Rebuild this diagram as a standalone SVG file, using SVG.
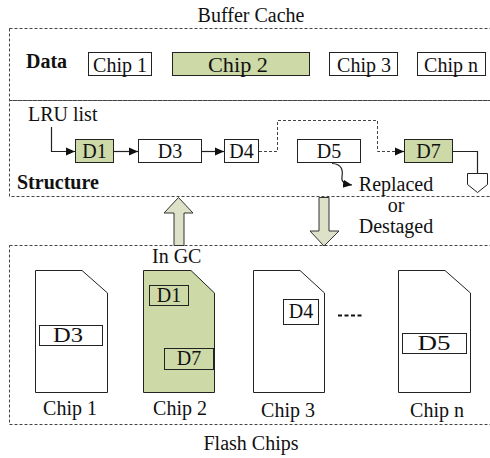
<svg xmlns="http://www.w3.org/2000/svg" width="490" height="458" viewBox="0 0 490 458">
<defs>
<style>
text{font-family:"Liberation Serif","Times New Roman",serif;font-size:20px;fill:#111}
.b{font-weight:bold}
.m{text-anchor:middle}
.box{fill:#fff;stroke:#222;stroke-width:1}
.g{fill:#cdd9a7}
.dash{fill:none;stroke:#444;stroke-width:1;stroke-dasharray:3 2}
.ln{fill:none;stroke:#222;stroke-width:1.2}
.blk{fill:#dce1c7;stroke:#333;stroke-width:1}
</style>
<marker id="ah" markerWidth="10" markerHeight="10" refX="9" refY="5" orient="auto" markerUnits="userSpaceOnUse">
<path d="M0,1 L9,5 L0,9 Z" fill="#111"/>
</marker>
</defs>
<rect width="490" height="458" fill="#fff"/>

<g id="regions">
<text class="m" x="251" y="22">Buffer Cache</text>
<rect class="dash" x="9.5" y="28.5" width="482" height="72"/>
<rect class="dash" x="9.5" y="100.5" width="482" height="96"/>
<rect class="dash" x="9.5" y="245.5" width="482" height="179"/>
<text class="m" x="251" y="450">Flash Chips</text>
<text class="b" x="26" y="68">Data</text>
<text class="b" x="17" y="189">Structure</text>
</g>

<g id="data-chip1"><rect class="box" x="88.5" y="52.5" width="63" height="23"/><text class="m" x="120" y="72">Chip 1</text></g>
<g id="data-chip2"><rect class="box g" x="172.5" y="52.5" width="137" height="23"/><text class="m" x="238" y="72" textLength="60" lengthAdjust="spacingAndGlyphs">Chip 2</text></g>
<g id="data-chip3"><rect class="box" x="329.5" y="52.5" width="68" height="23"/><text class="m" x="364" y="72">Chip 3</text></g>
<g id="data-chipn"><rect class="box" x="417.5" y="52.5" width="68" height="23"/><text class="m" x="451" y="72">Chip n</text></g>

<g id="lru-label"><text x="28" y="121">LRU list</text></g>
<g id="lru-d1"><rect class="box g" x="75.5" y="139.5" width="38" height="23"/><text class="m" x="94.5" y="158">D1</text></g>
<g id="lru-d3"><rect class="box" x="138.5" y="139.5" width="63" height="23"/><text class="m" x="170" y="158">D3</text></g>
<g id="lru-d4"><rect class="box" x="224.5" y="139.5" width="34" height="23"/><text class="m" x="241.5" y="158">D4</text></g>
<g id="lru-d5"><rect class="box" x="297.5" y="139.5" width="63" height="23"/><text class="m" x="329" y="158">D5</text></g>
<g id="lru-d7"><rect class="box g" x="404.5" y="139.5" width="48" height="23"/><text class="m" x="428.5" y="158">D7</text></g>
<g id="offpage"><path d="M467.5,173.5 H487.5 V184.5 L477.5,192.5 L467.5,184.5 Z" fill="#fff" stroke="#222" stroke-width="1"/></g>
<g id="replaced-label">
<text class="m" x="396" y="191">Replaced</text>
<text class="m" x="396" y="212">or</text>
<text class="m" x="396" y="233">Destaged</text>
</g>
<g id="in-gc"><text x="152" y="263">In GC</text></g>

<g id="connectors">
<path class="ln" d="M51.5,127 V151.5 H75" marker-end="url(#ah)"/>
<path class="ln" d="M114,151.5 H138" marker-end="url(#ah)"/>
<path class="ln" d="M202,151.5 H224" marker-end="url(#ah)"/>
<path class="dash" d="M259,151.5 H277.5 V120.5 H377.5 V151.5 H395"/>
<path d="M395,151.5 H404" class="ln" marker-end="url(#ah)"/>
<path class="ln" d="M453,151.5 H477.5 V173.5"/>
<path class="ln" d="M332,163.5 C342,164 343,170 342,177 C341,182 345,184 352,185" marker-end="url(#ah)"/>
<path class="blk" d="M178.5,197.5 L193,213 H184 V245.5 H174 V213 H164 Z"/>
<path class="blk" d="M319,197.5 H329 V231 H339 L324,246 L310,231 H319 Z"/>
</g>

<g id="flash-chip1">
<path class="box" d="M35.5,270.5 H82 L107.5,293 V392.5 H35.5 Z"/>
<rect class="box" x="39.5" y="325.5" width="63" height="20"/>
<text class="m" x="68" y="342" textLength="30" lengthAdjust="spacingAndGlyphs">D3</text>
<text class="m" x="70" y="415">Chip 1</text>
</g>
<g id="flash-chip2">
<path class="box g" d="M143.5,270.5 H191 L214.5,293 V392.5 H143.5 Z"/>
<rect class="box g" x="149.5" y="285.5" width="39" height="20"/>
<text class="m" x="169" y="302">D1</text>
<rect class="box g" x="164.5" y="348.5" width="49" height="21"/>
<text class="m" x="189" y="365">D7</text>
<text class="m" x="180" y="415">Chip 2</text>
</g>
<g id="flash-chip3">
<path class="box" d="M253.5,270.5 H300 L324.5,293 V392.5 H253.5 Z"/>
<rect class="box" x="283.5" y="299.5" width="35" height="25"/>
<text class="m" x="301" y="318">D4</text>
<text class="m" x="288" y="417">Chip 3</text>
</g>
<g id="ellipsis"><path d="M338,315.5 H362" stroke="#111" stroke-width="2" stroke-dasharray="4 2.5" fill="none"/></g>
<g id="flash-chipn">
<path class="box" d="M398.5,270.5 H445 L470.5,293 V392.5 H398.5 Z"/>
<rect class="box" x="402.5" y="333.5" width="64" height="20"/>
<text class="m" x="434" y="350" textLength="33" lengthAdjust="spacingAndGlyphs">D5</text>
<text class="m" x="437" y="417">Chip n</text>
</g>
</svg>
